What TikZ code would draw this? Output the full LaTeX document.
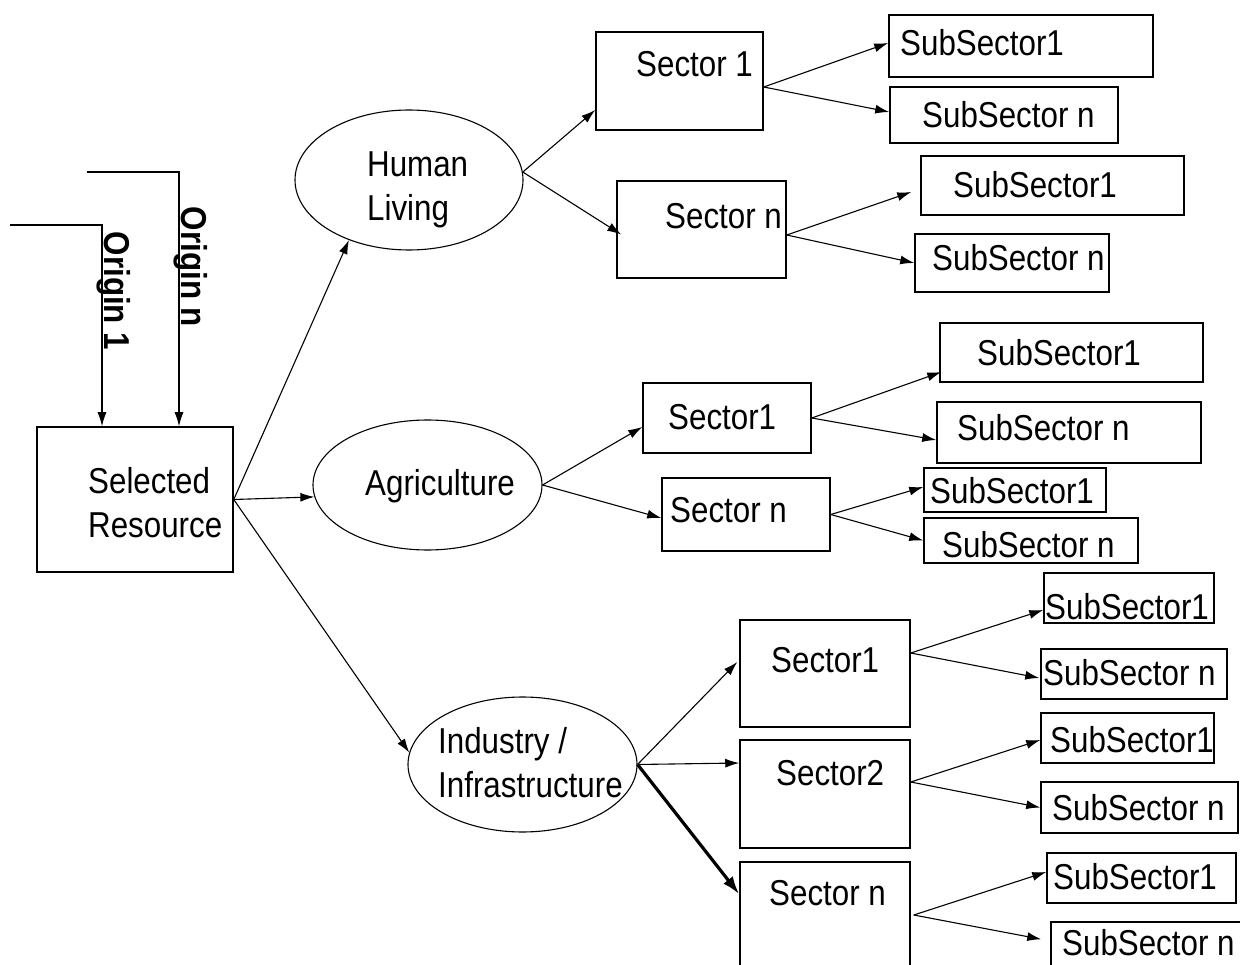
\documentclass[tikz,border=0pt]{standalone}
\usepackage{fontspec}
\setmainfont{Liberation Sans}[FakeStretch=0.87]
\usetikzlibrary{arrows.meta,shapes.geometric,calc}
\newcommand\dfont{\fontsize{36}{44}\selectfont}
\begin{document}
\begin{tikzpicture}[x=1pt,y=-1pt,
  box/.style={draw, line width=1.5pt, rectangle, inner sep=0pt},
  ell/.style={draw, line width=1.1pt, ellipse, inner sep=0pt},
  t1/.style={inner sep=0pt, anchor=west, text height=25.8pt, text depth=0pt, font=\dfont},
  t2/.style={inner sep=0pt, anchor=west, align=left, font=\dfont},
  orig/.style={inner sep=0pt, anchor=base, rotate=-90, font=\dfont\bfseries},
  arr/.style={line width=1.1pt, -{Latex[length=14pt,width=9pt]}},
  thk/.style={line width=3.2pt, -{Latex[length=18pt,width=12pt]}}]
\fill[white] (0,0) rectangle (1240,965);
\useasboundingbox (0,0) rectangle (1240,965);

% main resource
\node[box, minimum width=196pt, minimum height=145pt] (SR) at (135,499.5) {};
\node[t2] (SRt) at (88,502.5) {Selected\\Resource};

% ellipses
\node[ell, minimum width=228pt, minimum height=140pt] (HL) at (409,180) {};
\node[t2] (HLt) at (367,190) {Human\\Living};
\node[ell, minimum width=229pt, minimum height=130pt] (AG) at (427.5,485) {};
\node[t1] (AGt) at (365,483) {Agriculture};
\node[ell, minimum width=229pt, minimum height=135pt] (IN) at (522.5,764.5) {};
\node[t2] (INt) at (438,763) {Industry /\\Infrastructure};

% Human Living group
\node[box, minimum width=167pt, minimum height=98pt] (S1a) at (679.5,81) {};
\node[t1] (S1at) at (636,64) {Sector 1};
\node[box, minimum width=169pt, minimum height=97pt] (Sna) at (701.5,229.5) {};
\node[t1] (Snat) at (665,216) {Sector n};
\node[box, minimum width=264pt, minimum height=62pt] (A1) at (1021,46) {};
\node[t1] (A1t) at (900,43) {SubSector1};
\node[box, minimum width=228pt, minimum height=56pt] (A2) at (1004,115) {};
\node[t1] (A2t) at (922,115) {SubSector n};
\node[box, minimum width=263pt, minimum height=59pt] (A3) at (1052.5,185.5) {};
\node[t1] (A3t) at (953,185) {SubSector1};
\node[box, minimum width=194pt, minimum height=58pt] (A4) at (1012,263) {};
\node[t1] (A4t) at (932,258) {SubSector n};

% Agriculture group
\node[box, minimum width=168pt, minimum height=70pt] (S1b) at (727,418) {};
\node[t1] (S1bt) at (668,417) {Sector1};
\node[box, minimum width=168pt, minimum height=73pt] (Snb) at (746,514.5) {};
\node[t1] (Snbt) at (670,510) {Sector n};
\node[box, minimum width=263pt, minimum height=59pt] (B1) at (1071.5,352.5) {};
\node[t1] (B1t) at (977,353) {SubSector1};
\node[box, minimum width=264pt, minimum height=61pt] (B2) at (1069,432.5) {};
\node[t1] (B2t) at (957,428) {SubSector n};
\node[box, minimum width=182pt, minimum height=44pt] (B3) at (1015,490) {};
\node[t1] (B3t) at (930,491) {SubSector1};
\node[box, minimum width=214pt, minimum height=45pt] (B4) at (1031,540.5) {};
\node[t1] (B4t) at (942,545) {SubSector n};

% Industry group
\node[box, minimum width=170pt, minimum height=107pt] (S1c) at (825,673.5) {};
\node[t1] (S1ct) at (771,660) {Sector1};
\node[box, minimum width=170pt, minimum height=108pt] (S2c) at (825,794) {};
\node[t1] (S2ct) at (776,773) {Sector2};
\node[box, minimum width=170pt, minimum height=128pt] (Snc) at (825,926) {};
\node[t1] (Snct) at (769,893) {Sector n};
\node[box, minimum width=170pt, minimum height=50pt] (C1) at (1129,598) {};
\node[t1] (C1t) at (1045,607) {SubSector1};
\node[box, minimum width=186pt, minimum height=50pt] (C2) at (1134,674) {};
\node[t1] (C2t) at (1043,673) {SubSector n};
\node[box, minimum width=173pt, minimum height=50pt] (C3) at (1127.5,738) {};
\node[t1] (C3t) at (1050,740) {SubSector1};
\node[box, minimum width=197pt, minimum height=51pt] (C4) at (1139.5,807.5) {};
\node[t1] (C4t) at (1052,808) {SubSector n};
\node[box, minimum width=189pt, minimum height=50pt] (C5) at (1141.5,878) {};
\node[t1] (C5t) at (1053,877) {SubSector1};
\node[box, minimum width=199pt, minimum height=68pt] (C6) at (1150.5,956) {};
\node[t1] (C6t) at (1062,943) {SubSector n};

% origins
\coordinate (o1s) at (10,225);
\coordinate (ons) at (87,172);
\draw[arr] (o1s) -| ([xshift=-33pt]SR.north);
\draw[arr] (ons) -| ([xshift=44pt]SR.north);
\node[orig] (O1) at (104,291) {Origin 1};
\node[orig] (On) at (181,267) {Origin n};

% connectors from resource
\draw[arr] (SR.east) -- (HL.225);
\draw[arr] (SR.east) -- (AG.186);
\draw[arr] (SR.east) -- (IN.174);

% Human Living
\draw[arr] (HL.4) -- ([yshift=-29pt]S1a.west);
\draw[arr] (HL.4) -- ([xshift=5pt,yshift=-5pt]Sna.west);
\draw[arr] ([yshift=-6pt]S1a.east) -- ([yshift=3pt]A1.west);
\draw[arr] ([yshift=-6pt]S1a.east) -- ([yshift=3pt]A2.west);
\draw[arr] ([yshift=-5.5pt]Sna.east) -- ([xshift=-9pt,yshift=-6.5pt]A3.west);
\draw[arr] ([yshift=-5.5pt]Sna.east) -- (A4.west);

% Agriculture
\draw[arr] (AG.east) -- ([yshift=-9pt]S1b.west);
\draw[arr] (AG.east) -- ([yshift=-3.5pt]Snb.west);
\draw[arr] (S1b.east) -- ([xshift=2pt,yshift=-19.5pt]B1.west);
\draw[arr] (S1b.east) -- ([yshift=-7.5pt]B2.west);
\draw[arr] (Snb.east) -- ([yshift=3pt]B3.west);
\draw[arr] (Snb.east) -- (B4.west);

% Industry
\draw[arr] (IN.east) -- ([xshift=-2pt,yshift=11.5pt]S1c.west);
\draw[arr] (IN.east) -- ([yshift=31pt]S2c.west);
\draw[thk] (IN.east) -- ([yshift=-33pt]Snc.north west);
\draw[arr] ([yshift=20.5pt]S1c.east) -- ([yshift=-12pt]C1.west);
\draw[arr] ([yshift=20.5pt]S1c.east) -- ([xshift=-1pt,yshift=-4pt]C2.west);
\draw[arr] ([yshift=12pt]S2c.east) -- ([yshift=-2pt]C3.west);
\draw[arr] ([yshift=12pt]S2c.east) -- (C4.west);
\draw[arr] ([xshift=3pt,yshift=11pt]Snc.east) -- ([yshift=6pt]C5.west);
\draw[arr] ([xshift=3pt,yshift=11pt]Snc.east) -- ([xshift=-9pt,yshift=-18pt]C6.north west);
\end{tikzpicture}
\end{document}
